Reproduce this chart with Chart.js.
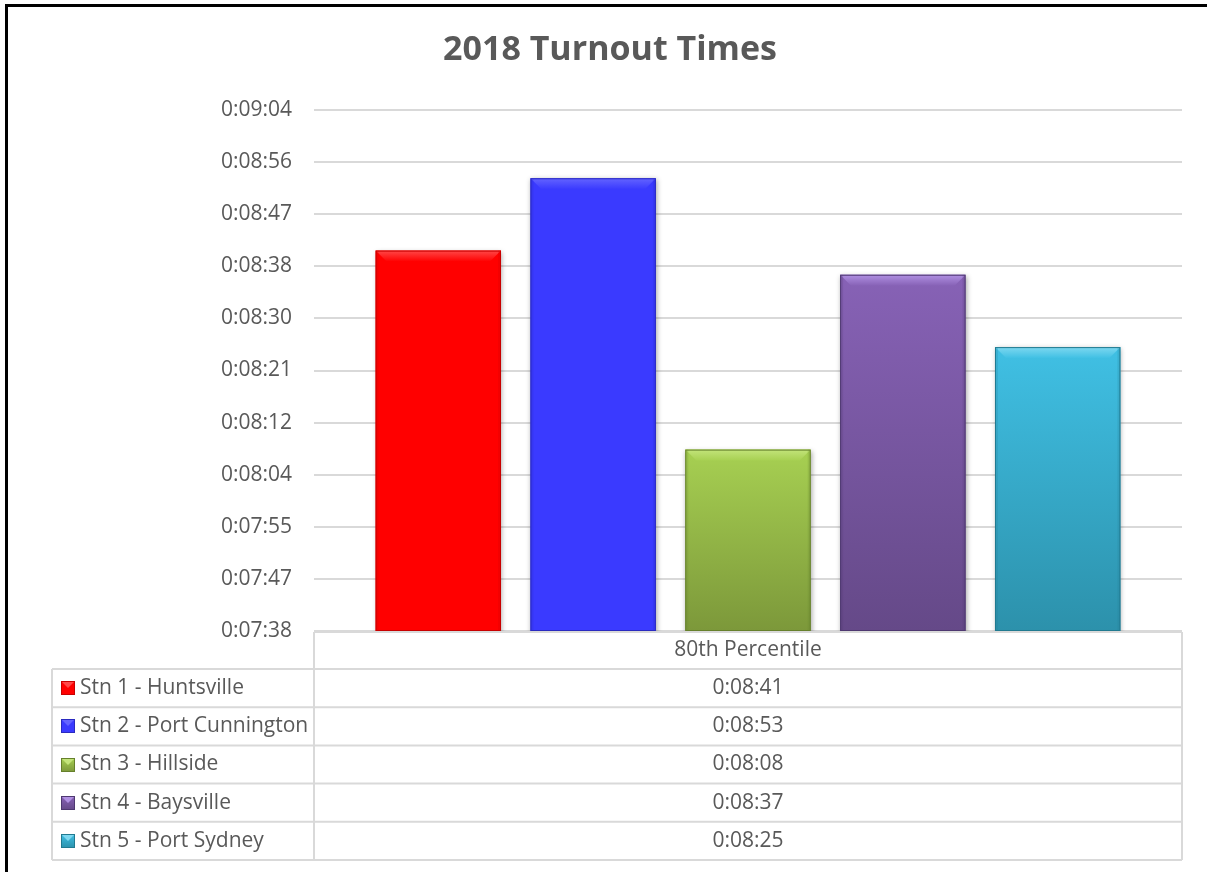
<!DOCTYPE html>
<html>
<head>
<meta charset="utf-8">
<title>2018 Turnout Times</title>
<script src="https://cdn.jsdelivr.net/npm/chart.js@4.4.1/dist/chart.umd.min.js"></script>
<style>
  body { margin: 0; background: #fff; }
  #wrap { position: relative; width: 1207px; height: 872px; overflow: hidden; }
  #wrap canvas { position: absolute; left: 0; top: 0; }
  #frame {
    position: absolute; left: 5px; top: 4px; right: -10px; bottom: -10px;
    border-top: 3px solid #000; border-left: 3px solid #000;
    pointer-events: none;
  }
</style>
</head>
<body>
<div id="wrap">
  <canvas id="turnoutChart" width="1207" height="872"></canvas>
  <div id="frame"></div>
</div>
<script>
// turnout times, 80th percentile, in seconds
const categories = ["80th Percentile"];
const stations = [
  "Stn 1 - Huntsville",
  "Stn 2 - Port Cunnington",
  "Stn 3 - Hillside",
  "Stn 4 - Baysville",
  "Stn 5 - Port Sydney",
];
const turnoutSeconds = [521, 533, 488, 517, 505];

// axis range in seconds (0.0053 to 0.0063 days, step 0.0001 days)
const axisMin = 457.92;
const axisMax = 544.32;
const axisStep = 8.64;

const topColors = ["#ff0000", "#3a3aff", "#a7d052", "#8762b6", "#40c0e4"];
const bottomColors = ["#ff0000", "#3a3aff", "#7c983a", "#654988", "#2c91ab"];
const bevelColors = ["#ff4848", "#6464ff", "#c3e47a", "#b090e2", "#7ed8f0"];
const edgeColors = ["#c80000", "#2a2ac0", "#66802c", "#4e3870", "#217a90"];

const FONT = "'Open Sans', 'Noto Sans', sans-serif";
const TEXT = "#595959";
const LINE = "#d9d9d9";
const PAD_LEFT = 38;

function fmtTime(sec) {
  const s = Math.round(sec);
  const h = Math.floor(s / 3600);
  const m = Math.floor((s % 3600) / 60);
  const r = s % 60;
  return h + ":" + String(m).padStart(2, "0") + ":" + String(r).padStart(2, "0");
}

function barFill(ctx, i) {
  const chart = ctx.chart;
  const area = chart.chartArea;
  if (!area || !chart.scales.y) return topColors[i];
  const top = chart.scales.y.getPixelForValue(ctx.raw);
  const g = chart.ctx.createLinearGradient(0, top, 0, area.bottom);
  g.addColorStop(0, topColors[i]);
  g.addColorStop(1, bottomColors[i]);
  return g;
}

// soft shadow + bevel on the bars
const bevelPlugin = {
  id: "bevel",
  beforeDatasetsDraw(chart) {
    const c = chart.ctx;
    c.save();
    c.shadowColor = "rgba(0,0,0,0.35)";
    c.shadowBlur = 5;
    c.shadowOffsetX = 1;
    c.shadowOffsetY = 1;
  },
  afterDatasetsDraw(chart) {
    const c = chart.ctx;
    const area = chart.chartArea;
    c.restore();
    c.save();
    chart.data.datasets.forEach((ds, i) => {
      chart.getDatasetMeta(i).data.forEach((bar) => {
        const l = bar.x - bar.width / 2;
        const r = bar.x + bar.width / 2;
        const t = bar.y;
        const b = Math.min(bar.base, area.bottom);
        const bv = 11;
        const g = c.createLinearGradient(0, t, 0, t + bv);
        g.addColorStop(0, bevelColors[i]);
        g.addColorStop(1, topColors[i]);
        c.fillStyle = g;
        c.beginPath();
        c.moveTo(l, t);
        c.lineTo(r, t);
        c.lineTo(r - bv, t + bv);
        c.lineTo(l + bv, t + bv);
        c.closePath();
        c.fill();
        c.globalAlpha = 0.2;
        c.fillStyle = edgeColors[i];
        c.fillRect(l, t, 3, b - t);
        c.fillRect(r - 3, t, 3, b - t);
        c.globalAlpha = 1;
        c.strokeStyle = edgeColors[i];
        c.lineWidth = 1;
        c.strokeRect(l + 0.5, t + 0.5, bar.width - 1, b - t - 1);
      });
    });
    c.restore();
  },
};

// data table below the plot
const tablePlugin = {
  id: "dataTable",
  afterDraw(chart) {
    const c = chart.ctx;
    const { left, right, bottom } = chart.chartArea;
    const top = bottom + 1;
    const headH = 37;
    const rowH = 38.2;
    const keyLeft = 52;
    const tableBottom = top + headH + rowH * stations.length;
    const mid = (left + right) / 2;

    c.save();
    c.strokeStyle = LINE;
    c.lineWidth = 2;
    c.beginPath();
    c.moveTo(left, top); c.lineTo(right, top);
    c.moveTo(left, top); c.lineTo(left, tableBottom);
    c.moveTo(right, top); c.lineTo(right, tableBottom);
    c.moveTo(keyLeft, top + headH); c.lineTo(keyLeft, tableBottom);
    for (let k = 0; k <= stations.length; k++) {
      const y = top + headH + rowH * k;
      c.moveTo(keyLeft, y); c.lineTo(right, y);
    }
    c.stroke();

    c.fillStyle = TEXT;
    c.font = "21px " + FONT;
    c.textBaseline = "middle";
    c.textAlign = "center";
    c.fillText(categories[0], mid, top + headH / 2);

    stations.forEach((name, i) => {
      const cy = top + headH + rowH * i + rowH / 2;
      // legend key
      const kx = 61, ks = 14, ky = Math.round(cy - ks / 2);
      const g = c.createLinearGradient(0, ky, 0, ky + ks);
      g.addColorStop(0, topColors[i]);
      g.addColorStop(1, bottomColors[i]);
      c.fillStyle = g;
      c.fillRect(kx, ky, ks, ks);
      c.fillStyle = bevelColors[i];
      c.beginPath();
      c.moveTo(kx, ky); c.lineTo(kx + ks, ky);
      c.lineTo(kx + ks / 2, ky + ks / 2);
      c.closePath();
      c.fill();
      c.strokeStyle = edgeColors[i];
      c.lineWidth = 1;
      c.strokeRect(kx + 0.5, ky + 0.5, ks - 1, ks - 1);

      c.fillStyle = TEXT;
      c.textAlign = "left";
      c.fillText(name, 80, cy);
      c.textAlign = "center";
      c.fillText(fmtTime(turnoutSeconds[i]), mid, cy);
    });
    c.restore();
  },
};

new Chart(document.getElementById("turnoutChart"), {
  type: "bar",
  data: {
    labels: categories,
    datasets: stations.map((name, i) => ({
      label: name,
      data: [turnoutSeconds[i]],
      backgroundColor: (ctx) => barFill(ctx, i),
      borderWidth: 0,
      categoryPercentage: 0.892,
      barPercentage: 0.81,
    })),
  },
  options: {
    responsive: false,
    animation: false,
    layout: { padding: { left: PAD_LEFT, right: 25, top: 0, bottom: 241 } },
    plugins: {
      legend: { display: false },
      tooltip: { enabled: false },
      title: {
        display: true,
        text: "2018 Turnout Times",
        color: TEXT,
        font: { family: FONT, size: 34, weight: "bold" },
        padding: { top: 30, bottom: 39.2 },
      },
    },
    scales: {
      x: { display: false },
      y: {
        min: axisMin,
        max: axisMax,
        afterFit(scale) { scale.width = 314 - PAD_LEFT; },
        border: { display: false },
        grid: { color: LINE, lineWidth: 2, drawTicks: false },
        ticks: {
          stepSize: axisStep,
          padding: 22,
          color: TEXT,
          font: { family: FONT, size: 21 },
          callback: (v) => fmtTime(v),
        },
      },
    },
  },
  plugins: [bevelPlugin, tablePlugin],
});
</script>
</body>
</html>
